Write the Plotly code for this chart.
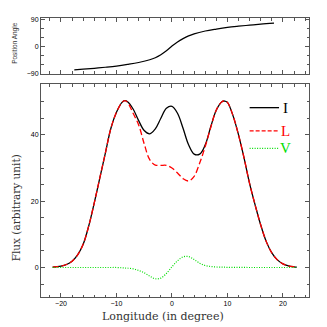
import plotly.graph_objects as go

# ---- data ----
lon = [-21.5, -21, -20, -19, -18, -17, -16, -15, -14, -13, -12, -11, -10, -9, -8.5, -8,
       -7, -6, -5, -4, -3, -2, -1, 0, 1, 2, 3, 4, 5, 6, 7, 8, 9, 9.5, 10,
       11, 12, 13, 14, 15, 16, 17, 18, 19, 20, 21, 22, 22.5]
flux_I = [0.1, 0.2, 0.4, 0.9, 1.9, 3.8, 7.0, 12.5, 19.5, 27.0, 34.5, 42.0, 46.8, 49.8, 50.3, 50.0,
          47.8, 44.3, 41.3, 40.3, 41.8, 45.0, 48.0, 48.6, 46.5, 42.0, 37.0, 34.2, 34.2, 37.0, 42.5, 47.5, 50.0, 50.2, 49.8,
          45.8, 40.0, 33.0, 25.3, 18.8, 12.8, 7.8, 4.4, 2.3, 1.1, 0.5, 0.2, 0.1]
flux_L = [0.1, 0.2, 0.4, 0.9, 1.9, 3.8, 7.0, 12.5, 19.5, 27.0, 34.5, 42.0, 46.8, 49.8, 50.3, 49.8,
          46.5, 43.0, 37.3, 32.5, 30.9, 30.8, 30.8, 30.0, 28.5, 26.8, 26.1, 27.5, 31.5, 36.5, 42.3, 47.5, 50.0, 50.2, 49.8,
          45.8, 40.0, 33.0, 25.3, 18.8, 12.8, 7.8, 4.4, 2.3, 1.1, 0.5, 0.2, 0.1]
flux_V = [0, 0, 0, 0, 0, 0, 0, 0, 0, 0, 0, 0, 0, -0.1, -0.15, -0.2,
          -0.4, -0.9, -1.6, -2.6, -3.4, -3.2, -1.8, 0.2, 2.0, 3.2, 3.3, 2.4, 1.3, 0.6, 0.3, 0.15, 0.1, 0.08, 0.05,
          0.03, 0.02, 0.01, 0, 0, 0, 0, 0, 0, 0, 0, 0, 0]

pa_lon = [-17.6, -16, -14, -12, -10, -8, -6, -4, -3, -2, -1, 0, 1, 2, 3, 4, 6, 8, 10, 12, 14, 16, 18.4]
pa_val = [-77.5, -75.5, -72.5, -69, -65, -59.5, -53, -44, -37, -27, -14, 2, 16, 27, 36, 43,
          52.5, 59, 64.5, 68.5, 72, 75.5, 79]

x_ticks = [-20, -10, 0, 10, 20]
flux_ticks = [0, 20, 40]
pa_ticks = [-90, 0, 90]
legend_names = ["I", "L", "V"]
legend_colors = ["black", "red", "#00dd00"]
legend_dash = ["solid", "dash", "dot"]

AX = "#555555"
fig = go.Figure()

fig.add_trace(go.Scatter(x=pa_lon, y=pa_val, mode="lines", line=dict(color="black", width=1.2, shape="spline"),
                         xaxis="x2", yaxis="y2", showlegend=False))
fig.add_trace(go.Scatter(x=lon, y=flux_I, mode="lines", line=dict(color=legend_colors[0], width=1.3, shape="spline"),
                         showlegend=False))
fig.add_trace(go.Scatter(x=lon, y=flux_L, mode="lines",
                         line=dict(color=legend_colors[1], width=1.3, shape="spline", dash="6px,3px"),
                         showlegend=False))
fig.add_trace(go.Scatter(x=lon, y=flux_V, mode="lines",
                         line=dict(color=legend_colors[2], width=1.2, shape="spline", dash="1px,1.5px"),
                         showlegend=False))

xrange = [-23.6, 24.7]
common = dict(showline=True, linecolor=AX, linewidth=1, mirror="allticks", ticks="inside",
              tickcolor=AX, ticklen=4, showgrid=False, zeroline=False,
              tickfont=dict(family="Liberation Sans", size=7, color="black"))

# the page body adds an 8px offset, so the figure is sized/margined to compensate
fig.update_layout(
    width=319, height=319, margin=dict(l=33, r=18, t=8, b=30),
    paper_bgcolor="white", plot_bgcolor="white",
    xaxis=dict(range=xrange, tickvals=x_ticks, domain=[0, 1],
               minor=dict(dtick=2, tick0=0, ticks="inside", ticklen=2.5, tickcolor=AX),
               **common),
    yaxis=dict(range=[-8.9, 55.3], tickvals=flux_ticks, domain=[0, 0.763],
               minor=dict(dtick=5, tick0=0, ticks="inside", ticklen=2.5, tickcolor=AX),
               **common),
    xaxis2=dict(range=xrange, tickvals=x_ticks, showticklabels=False, anchor="y2", matches="x",
                minor=dict(dtick=2, tick0=0, ticks="inside", ticklen=2.5, tickcolor=AX),
                **common),
    yaxis2=dict(range=[-90, 96], tickvals=pa_ticks, domain=[0.801, 1], anchor="x2",
                minor=dict(dtick=30, tick0=0, ticks="inside", ticklen=2.5, tickcolor=AX),
                **common),
)

# axis titles as positioned annotations
fig.add_annotation(x=0.457, y=-0.071, xref="paper", yref="paper", text="Longitude (in degree)",
                   showarrow=False, font=dict(family="DejaVu Serif", size=11, color="#333"),
                   xanchor="center", yanchor="middle")
fig.add_annotation(x=-0.093, y=0.318, xref="paper", yref="paper", text="Flux (arbitrary unit)",
                   showarrow=False, textangle=-90, font=dict(family="DejaVu Serif", size=10.5, color="#333"),
                   xanchor="center", yanchor="middle")
fig.add_annotation(x=-0.097, y=0.911, xref="paper", yref="paper", text="Position Angle",
                   showarrow=False, textangle=-90, font=dict(family="Liberation Sans", size=6.5, color="#333"),
                   xanchor="center", yanchor="middle")

# legend drawn as line samples + labels inside the lower panel
leg_y = [48.2, 41.2, 35.9]
for name, col, dsh, yy in zip(legend_names, legend_colors, legend_dash, leg_y):
    dash = {"solid": "solid", "dash": "4px,2px", "dot": "1px,1.5px"}[dsh]
    fig.add_shape(type="line", xref="x", yref="y", x0=14.0, x1=19.3, y0=yy, y1=yy,
                  line=dict(color=col, width=1.3, dash=dash))
    fig.add_annotation(x=20.5, y=yy, xref="x", yref="y", text=name, showarrow=False, borderpad=0,
                       font=dict(family="Liberation Serif", size=15, color=col), xanchor="center", yanchor="middle")

fig.write_html("out.html")
